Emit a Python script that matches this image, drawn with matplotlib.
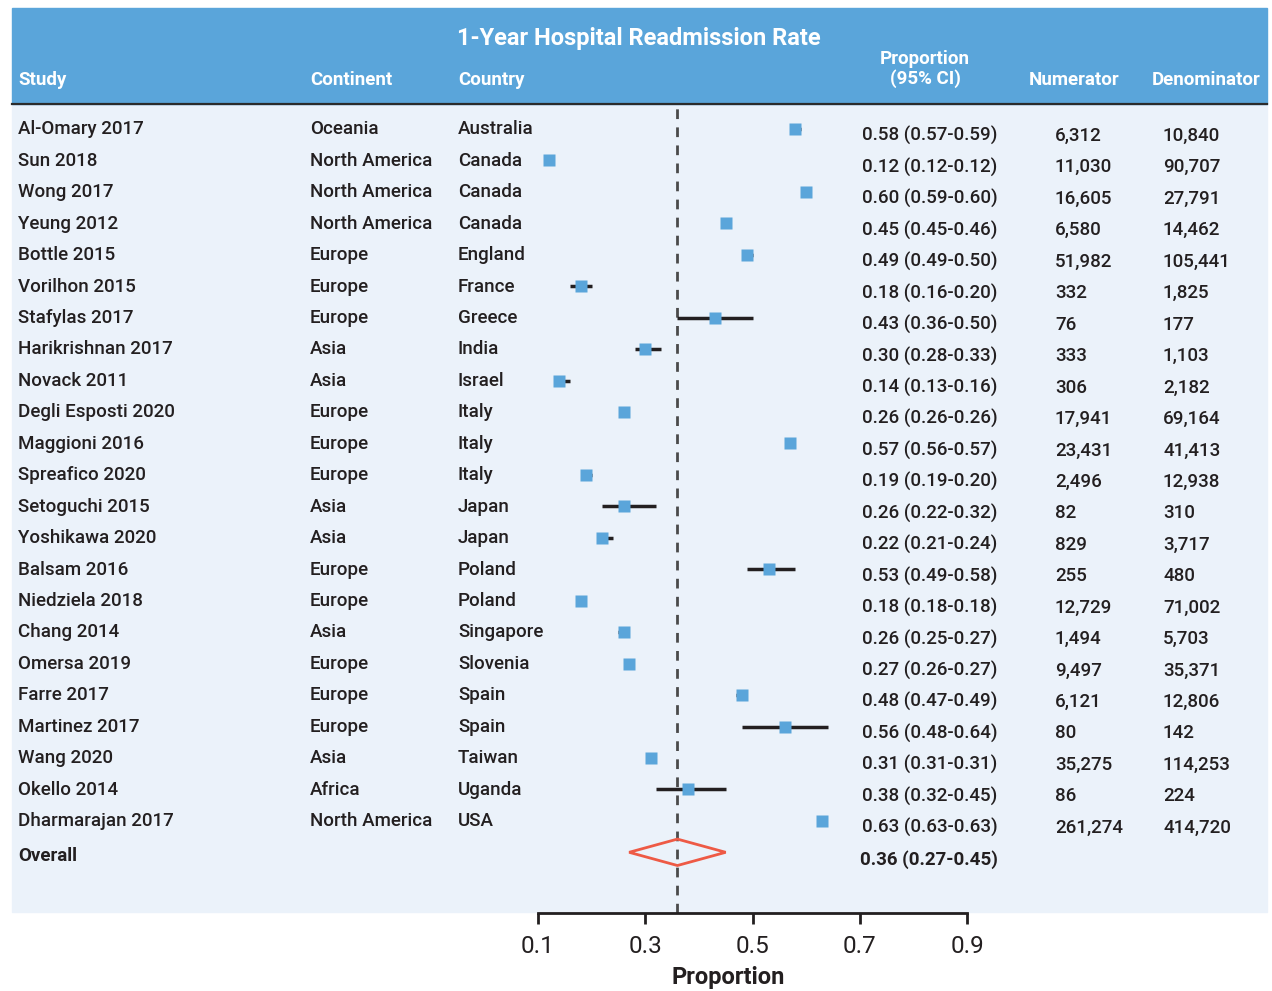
import numpy as np
import matplotlib.pyplot as plt
import matplotlib.transforms as mtransforms
from matplotlib.patches import Rectangle, Polygon

plt.rcParams['font.family'] = ['Roboto', 'DejaVu Sans']

studies = ['Al-Omary 2017', 'Sun 2018', 'Wong 2017', 'Yeung 2012', 'Bottle 2015',
           'Vorilhon 2015', 'Stafylas 2017', 'Harikrishnan 2017', 'Novack 2011',
           'Degli Esposti 2020', 'Maggioni 2016', 'Spreafico 2020', 'Setoguchi 2015',
           'Yoshikawa 2020', 'Balsam 2016', 'Niedziela 2018', 'Chang 2014',
           'Omersa 2019', 'Farre 2017', 'Martinez 2017', 'Wang 2020', 'Okello 2014',
           'Dharmarajan 2017']
continents = ['Oceania', 'North America', 'North America', 'North America', 'Europe',
              'Europe', 'Europe', 'Asia', 'Asia', 'Europe', 'Europe', 'Europe', 'Asia',
              'Asia', 'Europe', 'Europe', 'Asia', 'Europe', 'Europe', 'Europe', 'Asia',
              'Africa', 'North America']
countries = ['Australia', 'Canada', 'Canada', 'Canada', 'England', 'France', 'Greece',
             'India', 'Israel', 'Italy', 'Italy', 'Italy', 'Japan', 'Japan', 'Poland',
             'Poland', 'Singapore', 'Slovenia', 'Spain', 'Spain', 'Taiwan', 'Uganda', 'USA']
prop = [0.58, 0.12, 0.60, 0.45, 0.49, 0.18, 0.43, 0.30, 0.14, 0.26, 0.57, 0.19, 0.26,
        0.22, 0.53, 0.18, 0.26, 0.27, 0.48, 0.56, 0.31, 0.38, 0.63]
lo = [0.57, 0.12, 0.59, 0.45, 0.49, 0.16, 0.36, 0.28, 0.13, 0.26, 0.56, 0.19, 0.22,
      0.21, 0.49, 0.18, 0.25, 0.26, 0.47, 0.48, 0.31, 0.32, 0.63]
hi = [0.59, 0.12, 0.60, 0.46, 0.50, 0.20, 0.50, 0.33, 0.16, 0.26, 0.57, 0.20, 0.32,
      0.24, 0.58, 0.18, 0.27, 0.27, 0.49, 0.64, 0.31, 0.45, 0.63]
numerator = [6312, 11030, 16605, 6580, 51982, 332, 76, 333, 306, 17941, 23431, 2496, 82,
             829, 255, 12729, 1494, 9497, 6121, 80, 35275, 86, 261274]
denominator = [10840, 90707, 27791, 14462, 105441, 1825, 177, 1103, 2182, 69164, 41413,
               12938, 310, 3717, 480, 71002, 5703, 35371, 12806, 142, 114253, 224, 414720]
overall = 0.36
overall_lo = 0.27
overall_hi = 0.45
ticks = [0.1, 0.3, 0.5, 0.7, 0.9]

W, H = 1272, 991
blue = '#5AA5DA'
bg = '#EBF2FA'
dark = '#231F20'
red = '#EE5A45'

fig = plt.figure(figsize=(W / 100, H / 100), dpi=100)

def fx(px):
    return px / W

def fy(py):
    return 1 - py / H

# background panels (behind the axes)
fig.patches.append(Rectangle((fx(12), fy(912)), fx(1267) - fx(12), fy(104) - fy(912),
                             transform=fig.transFigure, color=bg, zorder=-2))
fig.patches.append(Rectangle((fx(12), fy(104)), fx(1267) - fx(12), fy(8) - fy(104),
                             transform=fig.transFigure, color=blue, zorder=-2))
fig.lines.append(plt.Line2D([fx(12), fx(1267)], [fy(104), fy(104)], transform=fig.transFigure,
                            color='#2b2b2b', lw=1.6, zorder=-1))

ax = fig.add_axes([fx(538), fy(913), fx(967) - fx(538), fy(104) - fy(913)])
ax.patch.set_alpha(0)
n = len(studies)
rows = np.arange(n)
ax.set_xlim(0.1, 0.9)
ax.set_ylim(24.93, -0.795)

ax.hlines(rows, lo, hi, color=dark, lw=2.5, zorder=3)
ax.plot(prop, rows, 's', color=blue, ms=9, mec='none', zorder=4)
ax.axvline(overall, color='#4a4a4a', lw=2, ls=(0, (3.5, 3)), zorder=2)
ax.add_patch(Polygon([[overall_lo, n], [overall, n - 0.42], [overall_hi, n], [overall, n + 0.42]],
                     closed=True, fill=False, edgecolor=red, lw=2, zorder=5))

for s in ['top', 'right', 'left']:
    ax.spines[s].set_visible(False)
ax.spines['bottom'].set_linewidth(2)
ax.spines['bottom'].set_color(dark)
ax.set_yticks([])
ax.set_xticks(ticks)
ax.set_xticklabels([f'{t:.1f}' for t in ticks])
ax.tick_params(axis='x', length=8, width=2, color=dark, labelsize=17.5, labelcolor=dark, pad=8)
ax.set_xlabel('Proportion', fontsize=17, fontweight='bold', color=dark)
ax.xaxis.set_label_coords(0.443, -0.066)

# text columns
trans_l = mtransforms.blended_transform_factory(fig.transFigure, ax.transData)
fs = 13.5
tk = dict(transform=trans_l, fontsize=fs, color=dark, va='center', fontweight='medium')
for i in range(n):
    ax.text(fx(18), i + 0.01, studies[i], **tk)
    ax.text(fx(310), i + 0.01, continents[i], **tk)
    ax.text(fx(458), i + 0.01, countries[i], **tk)
    ax.text(fx(862), i + 0.22, f'{prop[i]:.2f} ({lo[i]:.2f}-{hi[i]:.2f})', **tk)
    ax.text(fx(1055), i + 0.22, f'{numerator[i]:,}', **tk)
    ax.text(fx(1163), i + 0.22, f'{denominator[i]:,}', **tk)
ax.text(fx(18), n + 0.13, 'Overall', transform=trans_l, fontsize=fs, color=dark, va='center',
        fontweight='bold')
ax.text(fx(860), n + 0.22, f'{overall:.2f} ({overall_lo:.2f}-{overall_hi:.2f})', transform=trans_l,
        fontsize=fs, color=dark, va='center', fontweight='bold')

# header
hk = dict(color='white', fontweight='bold', fontsize=13.5, va='center')
fig.text(fx(639), fy(38.5), '1-Year Hospital Readmission Rate', ha='center', color='white',
         fontweight='bold', fontsize=17, va='center')
fig.text(fx(18), fy(80), 'Study', **hk)
fig.text(fx(310), fy(80), 'Continent', **hk)
fig.text(fx(458), fy(80), 'Country', **hk)
fig.text(fx(925), fy(69), 'Proportion\n(95% CI)', ha='center', linespacing=1.1, **hk)
fig.text(fx(1074), fy(80), 'Numerator', ha='center', **hk)
fig.text(fx(1206), fy(80), 'Denominator', ha='center', **hk)

fig.savefig('out.png', dpi=100)
